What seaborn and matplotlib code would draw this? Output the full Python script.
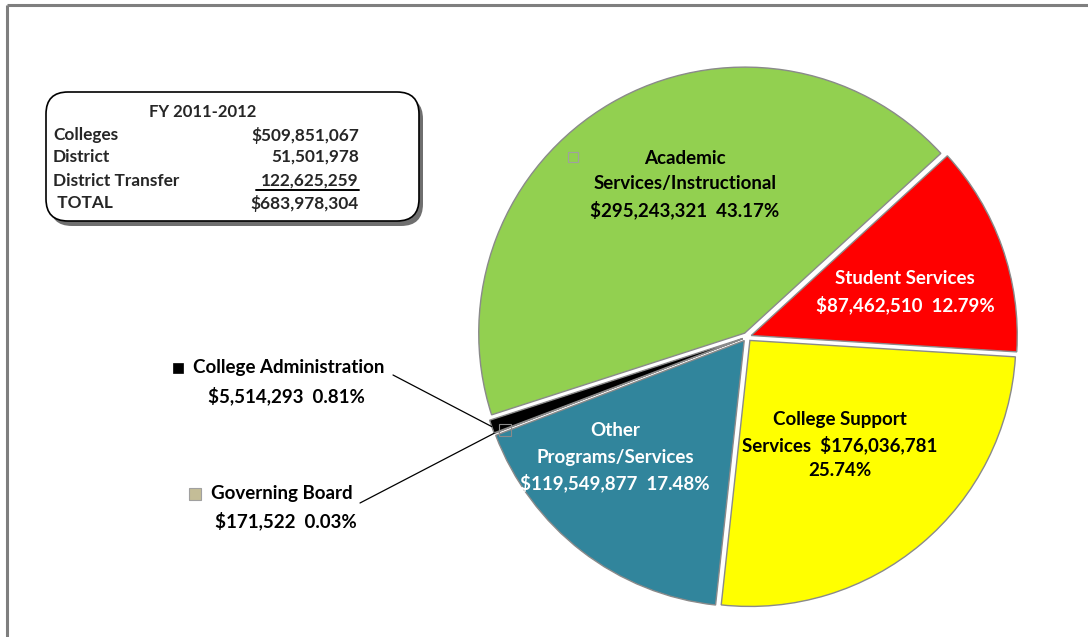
import numpy as np
import matplotlib
matplotlib.use("Agg")
import matplotlib.pyplot as plt
import seaborn as sns
from matplotlib.patches import FancyBboxPatch, Rectangle

# ---------------- data ----------------
categories = ["Student Services", "College Support Services", "Other Programs/Services",
              "Governing Board", "College Administration", "Academic Services/Instructional"]
amounts = [87462510, 176036781, 119549877, 171522, 5514293, 295243321]
colors = ["#FF0000", "#FFFF00", "#31859C", "#C4BD97", "#000000", "#92D050"]
label_names = [["Student Services"], ["College Support"], ["Other", "Programs/Services"],
               ["Governing Board"], ["College Administration"], ["Academic", "Services/Instructional"]]

summary_title = "FY 2011-2012"
summary_labels = ["Colleges", "District", "District Transfer", " TOTAL"]
summary_values = ["$509,851,067", "51,501,978", "122,625,259", "$683,978,304"]

# ---------------- style ----------------
sns.set_theme(style="white")
plt.rcParams["font.family"] = ["Lato", "DejaVu Sans"]

W, H = 1088, 637
fig = plt.figure(figsize=(W / 100, H / 100), dpi=100)
ax = fig.add_axes([0, 0, 1, 1])

def Y(y):
    return H - y

total = sum(amounts)
pcts = [a / total * 100 for a in amounts]

cx, cy, R = 747, 337, 266
wedges, _ = ax.pie(amounts, colors=colors, startangle=42.5, counterclock=False,
                   radius=R, center=(cx, Y(cy)), explode=[4.5] * len(amounts),
                   wedgeprops=dict(edgecolor="#8a8a8a", linewidth=1.0), frame=True)
ax.set_xlim(0, W)
ax.set_ylim(0, H)
ax.set_aspect("equal")
ax.axis("off")

FS = 13.5
def money(v):
    return "${:,.0f}".format(v)

def lines_at(x, y, lines, color, fs=FS, step=26):
    n = len(lines)
    for i, t in enumerate(lines):
        ax.text(x, Y(y + (i - (n - 1) / 2) * step), t, ha="center", va="center",
                fontsize=fs, fontweight="bold", color=color)

# inside labels
i = 5
lines_at(685, 184, label_names[i] + [f"{money(amounts[i])}  {pcts[i]:.2f}%"], "black")
i = 0
lines_at(905, 292, label_names[i] + [f"{money(amounts[i])}  {pcts[i]:.2f}%"], "white")
i = 1
lines_at(840, 445, label_names[i] + [f"Services  {money(amounts[i])}", f"{pcts[i]:.2f}%"], "black")
i = 2
lines_at(615, 457, label_names[i] + [f"{money(amounts[i])}  {pcts[i]:.2f}%"], "white")

# small legend-key squares inside pie
ax.add_patch(Rectangle((568, Y(162)), 10, 10, facecolor="none", edgecolor="#a0a0a0", lw=0.8))
ax.add_patch(Rectangle((499, Y(436)), 12, 12, facecolor="none", edgecolor="#8a8a8a", lw=0.8))

# outside labels with leader lines
def wedge_point(w):
    th = np.deg2rad((w.theta1 + w.theta2) / 2)
    x0, y0 = w.center
    return x0 + w.r * np.cos(th), y0 + w.r * np.sin(th)

i = 4
ax.add_patch(Rectangle((173, Y(373)), 10, 10, facecolor="black", edgecolor="black", lw=0.5))
ax.text(193, Y(368), label_names[i][0], ha="left", va="center", fontsize=FS, fontweight="bold", color="black")
ax.text(286, Y(396), f"{money(amounts[i])}  {pcts[i]:.2f}%", ha="center", va="center",
        fontsize=FS, fontweight="bold", color="black")
px, py = wedge_point(wedges[i])
ax.plot([393, px], [Y(375), py], color="black", lw=0.9)

i = 3
ax.add_patch(Rectangle((189, Y(500)), 12, 12, facecolor=colors[i], edgecolor="#a0a0a0", lw=0.8))
ax.text(211, Y(494), label_names[i][0], ha="left", va="center", fontsize=FS, fontweight="bold", color="black")
ax.text(286, Y(521), f"{money(amounts[i])}  {pcts[i]:.2f}%", ha="center", va="center",
        fontsize=FS, fontweight="bold", color="black")
px, py = wedge_point(wedges[i])
ax.plot([360, px], [Y(503), py], color="black", lw=0.9)

# summary box
bx0, by0, bx1, by1 = 46, 92, 419, 221
ax.add_patch(FancyBboxPatch((bx0 + 4, Y(by1 + 5)), bx1 - bx0, by1 - by0,
                            boxstyle="round,pad=0,rounding_size=22", facecolor="#6f6f6f",
                            edgecolor="none", zorder=3))
ax.add_patch(FancyBboxPatch((bx0, Y(by1)), bx1 - bx0, by1 - by0,
                            boxstyle="round,pad=0,rounding_size=22", facecolor="white",
                            edgecolor="black", lw=1.2, zorder=4))
FSB = 12.4
ax.text(203, Y(112), summary_title, ha="center", va="center", fontsize=12, fontweight="bold", zorder=5)
row_y = [135, 157, 181, 203]
for lab, val, yy in zip(summary_labels, summary_values, row_y):
    ax.text(53, Y(yy), lab, ha="left", va="center", fontsize=FSB, fontweight="bold", zorder=5)
    ax.text(359, Y(yy), val, ha="right", va="center", fontsize=FSB, fontweight="bold", zorder=5)
# underline for transfer value
ax.plot([256, 359], [Y(190), Y(190)], color="black", lw=1.4, zorder=5)

# outer frame (top and left edges)
ax.plot([7, W], [Y(5), Y(5)], color="#7f7f7f", lw=2.2, solid_capstyle="butt")
ax.plot([7, 7], [Y(5), 0], color="#7f7f7f", lw=2.2, solid_capstyle="butt")

fig.savefig("out.png", dpi=100, facecolor="white")
